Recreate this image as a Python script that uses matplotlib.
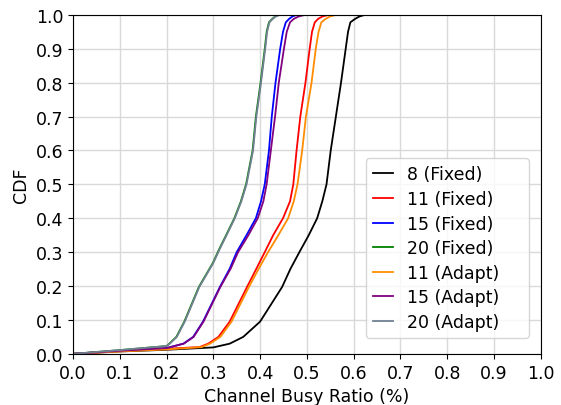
import matplotlib
matplotlib.use("Agg")
import matplotlib.pyplot as plt

# CDF knots (x = channel busy ratio, y = CDF)
x_8_fixed = [0.0, 0.1, 0.2, 0.3, 0.335, 0.364, 0.4, 0.447, 0.465, 0.484, 0.504,
             0.522, 0.533, 0.542, 0.551, 0.562, 0.573, 0.583, 0.588, 0.593, 0.603,
             0.612, 0.624, 1.0]
y_8_fixed = [0.0, 0.007, 0.012, 0.019, 0.03, 0.05, 0.095, 0.197, 0.251, 0.3, 0.35,
             0.4, 0.45, 0.5, 0.6, 0.7, 0.8, 0.9, 0.95, 0.978, 0.988,
             0.995, 1.0, 1.0]

x_11_fixed = [0.0, 0.1, 0.2, 0.271, 0.289, 0.311, 0.335, 0.372, 0.392, 0.41, 0.428,
              0.449, 0.464, 0.471, 0.478, 0.486, 0.497, 0.506, 0.511, 0.517, 0.524,
              0.533, 0.546, 1.0]
y_11_fixed = [0.0, 0.008, 0.015, 0.02, 0.03, 0.05, 0.095, 0.197, 0.251, 0.3, 0.35,
              0.4, 0.45, 0.5, 0.6, 0.7, 0.8, 0.9, 0.95, 0.978, 0.988,
              0.995, 1.0, 1.0]

x_11_adapt = [0.0, 0.1, 0.2, 0.275, 0.293, 0.315, 0.339, 0.376, 0.397, 0.417, 0.439,
              0.46, 0.472, 0.48, 0.49, 0.498, 0.51, 0.519, 0.525, 0.531, 0.54,
              0.549, 0.563, 1.0]
y_11_adapt = [0.0, 0.007, 0.013, 0.02, 0.03, 0.05, 0.095, 0.197, 0.251, 0.3, 0.35,
              0.4, 0.45, 0.5, 0.6, 0.7, 0.8, 0.9, 0.95, 0.978, 0.988,
              0.995, 1.0, 1.0]

x_15_fixed = [0.0, 0.1, 0.2, 0.236, 0.257, 0.278, 0.314, 0.335, 0.35, 0.371, 0.391,
              0.402, 0.41, 0.419, 0.425, 0.433, 0.443, 0.449, 0.455, 0.462, 0.469,
              0.478, 1.0]
y_15_fixed = [0.0, 0.009, 0.017, 0.03, 0.05, 0.095, 0.197, 0.251, 0.3, 0.35, 0.4,
              0.45, 0.5, 0.6, 0.7, 0.8, 0.9, 0.95, 0.978, 0.988, 0.995,
              1.0, 1.0]

x_15_adapt = [0.0, 0.1, 0.2, 0.237, 0.258, 0.279, 0.315, 0.337, 0.353, 0.375, 0.395,
              0.407, 0.414, 0.423, 0.432, 0.44, 0.451, 0.457, 0.464, 0.472, 0.482,
              0.496, 1.0]
y_15_adapt = [0.0, 0.009, 0.017, 0.03, 0.05, 0.095, 0.197, 0.251, 0.3, 0.35, 0.4,
              0.45, 0.5, 0.6, 0.7, 0.8, 0.9, 0.95, 0.978, 0.988, 0.995,
              1.0, 1.0]

x_20_fixed = [0.0, 0.1, 0.2, 0.206, 0.221, 0.238, 0.269, 0.299, 0.313, 0.327, 0.345,
              0.359, 0.37, 0.384, 0.391, 0.401, 0.41, 0.414, 0.419, 0.426, 0.432,
              0.441, 1.0]
y_20_fixed = [0.0, 0.011, 0.023, 0.03, 0.05, 0.095, 0.197, 0.268, 0.31, 0.349, 0.4,
              0.45, 0.5, 0.6, 0.7, 0.8, 0.9, 0.95, 0.978, 0.988, 0.995,
              1.0, 1.0]

x_20_adapt = [0.0, 0.1, 0.2, 0.207, 0.222, 0.239, 0.27, 0.3, 0.314, 0.328, 0.346,
              0.36, 0.371, 0.385, 0.392, 0.402, 0.411, 0.415, 0.42, 0.427, 0.433,
              0.442, 1.0]
y_20_adapt = [0.0, 0.011, 0.023, 0.03, 0.05, 0.095, 0.197, 0.268, 0.31, 0.349, 0.4,
              0.45, 0.5, 0.6, 0.7, 0.8, 0.9, 0.95, 0.978, 0.988, 0.995,
              1.0, 1.0]

series = [
    ("8 (Fixed)", x_8_fixed, y_8_fixed, "black"),
    ("11 (Fixed)", x_11_fixed, y_11_fixed, "red"),
    ("15 (Fixed)", x_15_fixed, y_15_fixed, "blue"),
    ("20 (Fixed)", x_20_fixed, y_20_fixed, "green"),
    ("11 (Adapt)", x_11_adapt, y_11_adapt, "darkorange"),
    ("15 (Adapt)", x_15_adapt, y_15_adapt, "purple"),
    ("20 (Adapt)", x_20_adapt, y_20_adapt, "slategray"),
]

ticks = [i / 10 for i in range(11)]

fig, ax = plt.subplots(figsize=(5.61, 4.06), dpi=100)
fig.subplots_adjust(left=0.130, right=0.964, bottom=0.126, top=0.961)

for label, xs, ys, color in series:
    ax.plot(xs, ys, color=color, linewidth=1.3, label=label)

ax.set_xlim(0, 1)
ax.set_ylim(0, 1)
ax.set_xticks(ticks)
ax.set_yticks(ticks)
ax.tick_params(labelsize=12.5)
ax.set_xlabel("Channel Busy Ratio (%)", fontsize=12.5)
ax.set_ylabel("CDF", fontsize=12.5)
ax.grid(True, color="#d9d9d9", linewidth=1.0)
ax.set_axisbelow(True)
ax.legend(loc="lower left", bbox_to_anchor=(0.626, 0.047, 0.348, 0.546),
          mode="expand", borderaxespad=0, fontsize=12.5,
          handlelength=1.15, labelspacing=0.38)

fig.savefig("out.png", dpi=100)
